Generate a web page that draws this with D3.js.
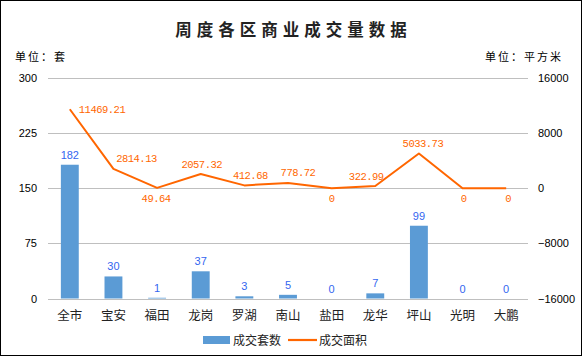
<!DOCTYPE html>
<html><head><meta charset="utf-8">
<script src="https://cdn.jsdelivr.net/npm/d3@7"></script>
<style>body{margin:0;background:#fff}svg{display:block}</style>
</head><body>
<svg id="c" width="583" height="357"></svg>
<script>
const categories = ['全市','宝安','福田','龙岗','罗湖','南山','盐田','龙华','坪山','光明','大鹏'];
const units = [182, 30, 1, 37, 3, 5, 0, 7, 99, 0, 0];
const area = [11469.21, 2814.13, 49.64, 2057.32, 412.68, 778.72, 0, 322.99, 5033.73, 0, 0];
const areaLabels = ['11469.21','2814.13','49.64','2057.32','412.68','778.72','0','322.99','5033.73','0','0'];
const leftTicks = [0, 75, 150, 225, 300];
const rightTicks = [-16000, -8000, 0, 8000, 16000];
const title = '周度各区商业成交量数据';
const seriesNames = ['成交套数','成交面积'];

// layout (not data)
const labelPlace = ['right','above','below','above','above','above','below','above','above','below','below'];
const labelDx = [0, 23, -1, 1, 6, 10, 0, -9, 4, 1, 2];

const W = 583, H = 357;
const m = {l:48, r:55, t:78, b:58.5};
const svg = d3.select('#c');
svg.append('rect').attr('x',0.5).attr('y',0.5).attr('width',581).attr('height',355)
  .attr('fill','#fff').attr('stroke','#000').attr('stroke-width',1);

const x = d3.scaleBand().domain(categories).range([m.l, W - m.r]).paddingInner(0.59).paddingOuter(0.295);
const xc = d => x(d) + x.bandwidth()/2;
const yL = d3.scaleLinear().domain([0,300]).range([H - m.b, m.t]);
const yR = d3.scaleLinear().domain([-16000,16000]).range([H - m.b, m.t]);

const gray = '#bfbfbf';
const font = "'Liberation Sans', Arial, sans-serif";
const cjk = "'Noto Sans CJK SC', sans-serif";

// gridlines
svg.append('g').selectAll('line').data(leftTicks).join('line')
  .attr('x1', m.l).attr('x2', W - m.r)
  .attr('y1', d => Math.round(yL(d)) + 0.5).attr('y2', d => Math.round(yL(d)) + 0.5)
  .attr('stroke', gray).attr('stroke-width', 1);

// left axis
const gl = svg.append('g').attr('transform', `translate(${m.l},0)`)
  .call(d3.axisLeft(yL).tickValues(leftTicks).tickSize(0).tickPadding(11));
gl.select('.domain').remove();
gl.selectAll('text').attr('font-family', font).attr('font-size', 11).attr('fill', '#000');

// right axis
const gr = svg.append('g').attr('transform', `translate(${W - m.r},0)`)
  .call(d3.axisRight(yR).tickValues(rightTicks).tickFormat(d3.format('d')).tickSize(0).tickPadding(10));
gr.select('.domain').remove();
gr.selectAll('text').attr('font-family', font).attr('font-size', 11).attr('fill', '#000');

// x axis
const gx = svg.append('g').attr('transform', `translate(0,${H - m.b})`)
  .call(d3.axisBottom(x).tickSize(0).tickPadding(13));
gx.select('.domain').remove();
gx.selectAll('text').attr('font-family', cjk).attr('font-size', 12.5).attr('fill', '#222');

// bars
const barColor = '#5b9bd5';
svg.append('g').selectAll('rect').data(units).join('rect')
  .attr('x', (d,i) => x(categories[i]))
  .attr('width', x.bandwidth())
  .attr('y', d => yL(d))
  .attr('height', d => yL(0) - yL(d))
  .attr('fill', barColor);

svg.append('g').selectAll('text').data(units).join('text')
  .attr('x', (d,i) => xc(categories[i]))
  .attr('y', d => yL(d) - 6)
  .attr('text-anchor', 'middle')
  .attr('font-family', font).attr('font-size', 11)
  .attr('fill', '#3366f0')
  .text(d => d);

// line
const lineColor = '#ff6600';
const line = d3.line()
  .x((d,i) => xc(categories[i]))
  .y(d => yR(d))
  .curve(d3.curveLinear);
svg.append('path').datum(area).attr('d', line)
  .attr('fill', 'none').attr('stroke', lineColor).attr('stroke-width', 2)
  .attr('stroke-linejoin', 'round');

const mono = "'Liberation Mono', 'DejaVu Sans Mono', monospace";
svg.append('g').selectAll('text').data(area).join('text')
  .attr('x', (d,i) => xc(categories[i]) + (labelPlace[i] === 'right' ? 9 : labelDx[i]))
  .attr('y', (d,i) => {
    const p = labelPlace[i];
    const cy = yR(d) + (p === 'above' ? -10.5 : p === 'below' ? 10 : 0);
    return cy + 4;
  })
  .attr('text-anchor', (d,i) => labelPlace[i] === 'right' ? 'start' : 'middle')
  .attr('font-family', mono).attr('font-size', 10.5).attr('letter-spacing', -0.5)
  .attr('fill', lineColor)
  .text((d,i) => areaLabels[i]);

// title
svg.append('text').attr('x', W/2 + 2).attr('y', 36)
  .attr('text-anchor', 'middle')
  .attr('font-family', cjk).attr('font-weight', 'bold').attr('font-size', 16.5)
  .attr('letter-spacing', 5).attr('fill', '#222')
  .text(title);

// unit labels
svg.append('text').attr('x', 15).attr('y', 61)
  .attr('font-family', cjk).attr('font-size', 11).attr('letter-spacing', 2).attr('fill', '#000')
  .text('单位：套');
svg.append('text').attr('x', 563).attr('y', 61).attr('text-anchor', 'end')
  .attr('font-family', cjk).attr('font-size', 11).attr('letter-spacing', 2).attr('fill', '#000')
  .text('单位：平方米');

// legend
const lg = svg.append('g');
lg.append('rect').attr('x', 203).attr('y', 336).attr('width', 27).attr('height', 8).attr('fill', barColor);
lg.append('text').attr('x', 233).attr('y', 344.5).attr('font-family', cjk).attr('font-size', 12).attr('fill', '#222').text(seriesNames[0]);
lg.append('line').attr('x1', 288).attr('x2', 317).attr('y1', 340).attr('y2', 340).attr('stroke', lineColor).attr('stroke-width', 2.2);
lg.append('text').attr('x', 319).attr('y', 344.5).attr('font-family', cjk).attr('font-size', 12).attr('fill', '#222').text(seriesNames[1]);
</script>
</body></html>
